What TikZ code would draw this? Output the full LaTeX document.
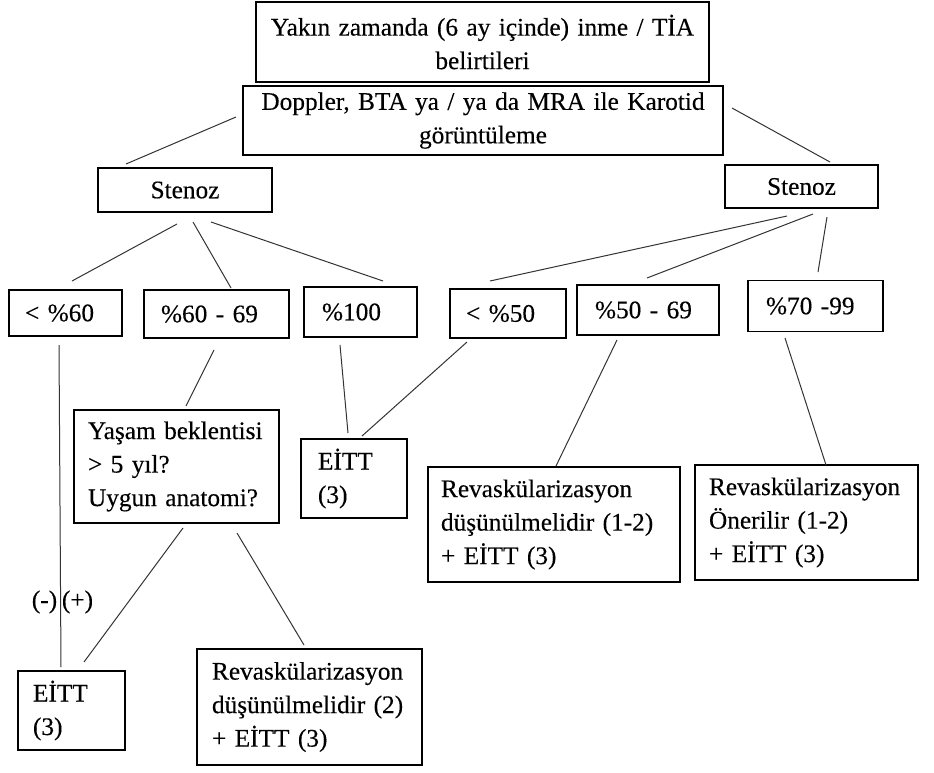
\documentclass[tikz,border=0pt]{standalone}
\usepackage{fontspec}
\setmainfont[FakeBold=0.25]{Liberation Serif}
\begin{document}
\begin{tikzpicture}[x=1pt,y=-1pt,
  box/.style={draw, line width=1.8pt, inner ysep=0pt, font=\fontsize{25.3}{33.5}\selectfont},
  lbox/.style={box, align=left},
  cbox/.style={box, align=center, inner xsep=4pt},
  lab/.style={font=\fontsize{25.3}{33.5}\selectfont, inner sep=0pt},
  conn/.style={line width=1pt, draw=black!80}]
\useasboundingbox (0,0) rectangle (934,772);
% boxes
\node[cbox, minimum width=453, minimum height=80, text width=440] (top) at (482.5,42) {Yakın zamanda (6 ay içinde) inme / TİA\\belirtileri};
\node[cbox, minimum width=480, minimum height=69, text width=470] (dop) at (483,120.5) {Doppler, BTA ya / ya da MRA ile Karotid\\görüntüleme};
\node[cbox, minimum width=174, minimum height=44, text width=160] (stenL) at (185,190) {Stenoz};
\node[cbox, minimum width=153, minimum height=43, text width=140] (stenR) at (801.5,186.5) {Stenoz};
\node[lbox, minimum width=113, minimum height=46, inner xsep=16, text width=81] (p60) at (65.5,313) {< \%60};
\node[lbox, minimum width=145, minimum height=48, inner xsep=17, text width=111] (p6069) at (216.5,314) {\%60 - 69};
\node[lbox, minimum width=113, minimum height=50, inner xsep=18, text width=77] (p100) at (360.5,312) {\%100};
\node[lbox, minimum width=116, minimum height=49, inner xsep=16, text width=84] (p50) at (508,313.5) {< \%50};
\node[lbox, minimum width=142, minimum height=50, inner xsep=18, text width=106] (p5069) at (648,310) {\%50 - 69};
\node[lbox, minimum width=135, minimum height=51, inner xsep=18, text width=99] (p7099) at (815.5,306) {\%70 -99};
\node[lbox, minimum width=205, minimum height=113, inner xsep=14, text width=177] (yas) at (176.5,466.5) {Yaşam beklentisi\\> 5 yıl?\\Uygun anatomi?};
\node[lbox, minimum width=106, minimum height=79, inner xsep=17, text width=72] (eittM) at (354,478.5) {EİTT\\(3)};
\node[lbox, minimum width=252, minimum height=115, inner xsep=13, text width=226] (revM) at (554,524.5) {Revaskülarizasyon\\düşünülmelidir (1-2)\\+ EİTT (3)};
\node[lbox, minimum width=223, minimum height=115, inner xsep=14, text width=195] (revR) at (806.5,522.5) {Revaskülarizasyon\\Önerilir (1-2)\\+ EİTT (3)};
\node[lbox, minimum width=107, minimum height=79, inner xsep=15, text width=77] (eittB) at (71.5,710.5) {EİTT\\(3)};
\node[lbox, minimum width=225, minimum height=116, inner xsep=15, text width=195] (rev2) at (309.5,707) {Revaskülarizasyon\\düşünülmelidir (2)\\+ EİTT (3)};
% labels
\node[lab] (minus) at (44.5,602) {(-)};
\node[lab] (plus) at (77.5,602) {(+)};
% connector end points
\coordinate (a1) at (236,117); \coordinate (a2) at (126,164);
\coordinate (b1) at (732,108); \coordinate (b2) at (830,162);
\coordinate (c1) at (177,224); \coordinate (c2) at (72,281);
\coordinate (d1) at (193,222); \coordinate (d2) at (231,288);
\coordinate (e1) at (211,222); \coordinate (e2) at (383,281);
\coordinate (f1) at (787,216); \coordinate (f2) at (490,281);
\coordinate (g1) at (813,214); \coordinate (g2) at (647,278);
\coordinate (h1) at (827,217); \coordinate (h2) at (818,272);
\coordinate (i1) at (59,345); \coordinate (i2) at (61,667);
\coordinate (j1) at (214,350); \coordinate (j2) at (186,406);
\coordinate (k1) at (340,345); \coordinate (k2) at (348,433);
\coordinate (l1) at (467,342); \coordinate (l2) at (362,436);
\coordinate (m1) at (617,340); \coordinate (m2) at (556,466);
\coordinate (n1) at (785,338); \coordinate (n2) at (826,465);
\coordinate (o1) at (183,528); \coordinate (o2) at (84,662);
\coordinate (q1) at (237,533); \coordinate (q2) at (304,645);
% connectors
\draw[conn] (a1) -- (a2);
\draw[conn] (b1) -- (b2);
\draw[conn] (c1) -- (c2);
\draw[conn] (d1) -- (d2);
\draw[conn] (e1) -- (e2);
\draw[conn] (f1) -- (f2);
\draw[conn] (g1) -- (g2);
\draw[conn] (h1) -- (h2);
\draw[conn] (i1) -- (i2);
\draw[conn] (j1) -- (j2);
\draw[conn] (k1) -- (k2);
\draw[conn] (l1) -- (l2);
\draw[conn] (m1) -- (m2);
\draw[conn] (n1) -- (n2);
\draw[conn] (o1) -- (o2);
\draw[conn] (q1) -- (q2);
\end{tikzpicture}
\end{document}
